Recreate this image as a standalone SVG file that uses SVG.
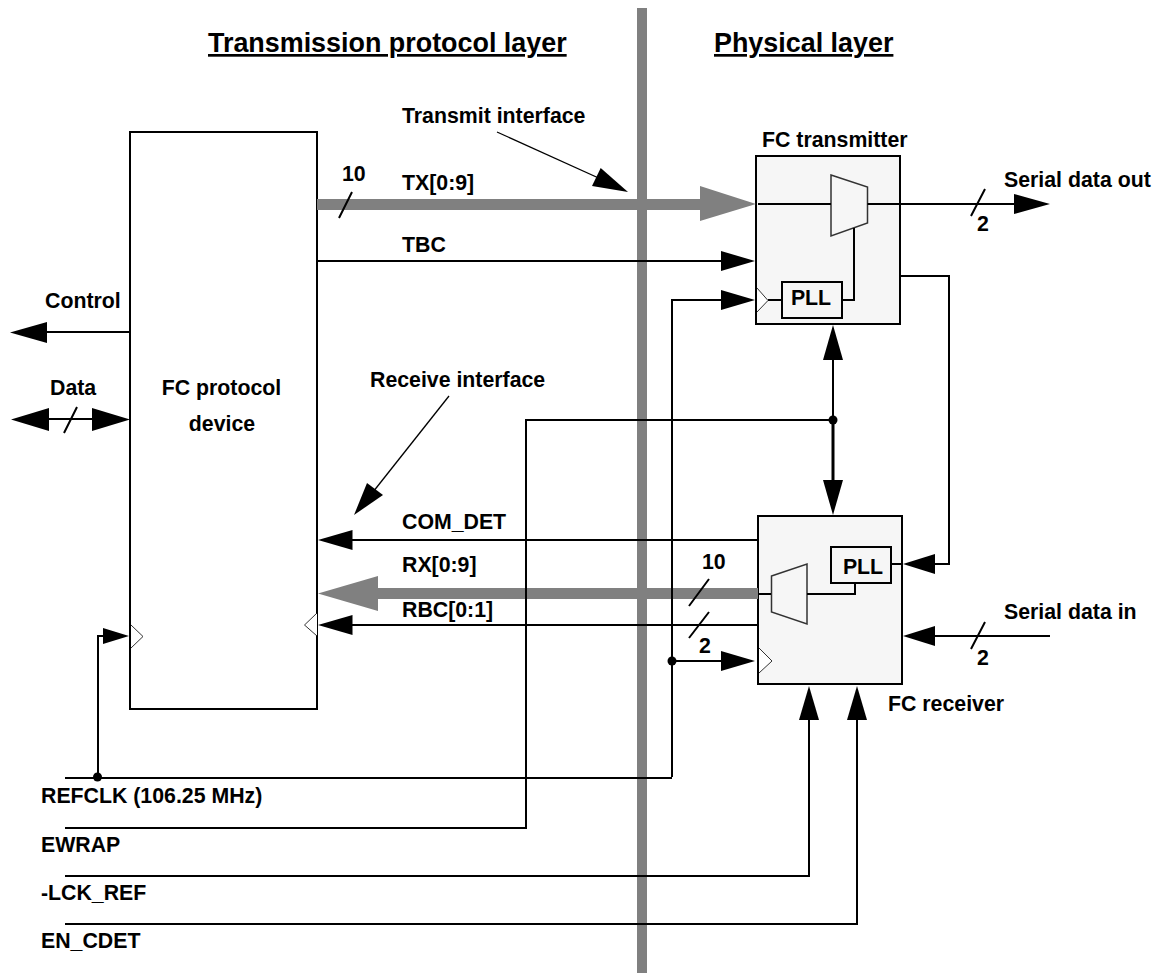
<svg xmlns="http://www.w3.org/2000/svg" width="1158" height="974" viewBox="0 0 1158 974">
<style>
text{font-family:"Liberation Sans",Arial,sans-serif;font-weight:bold;font-size:21.3px;fill:#000}
.h{font-size:26.900px;text-decoration:underline}
.box{fill:#f6f6f6;stroke:#000;stroke-width:2}
.plain{fill:#fff;stroke:#000;stroke-width:2}
.mux{fill:#f6f6f6;stroke:#333;stroke-width:1.5}
.ln{fill:none;stroke:#000;stroke-width:2}
.thin{fill:none;stroke:#000;stroke-width:1.3}
.bus{fill:none;stroke:#808080;stroke-width:11}
.clk{fill:#fff;stroke:#000;stroke-width:.8}
.a{fill:#000;stroke:none}
.g{fill:#808080;stroke:none}
</style>
<rect id="divider" x="637" y="8" width="10" height="965" fill="#808080"/>
<text class="h" x="208" y="52">Transmission protocol layer</text>
<text class="h" x="714" y="52">Physical layer</text>
<g id="fc-protocol-device">
<rect class="plain" x="130" y="132" width="187" height="577"/>
<path class="clk" d="M131 625L143 636.500L131 648"/>
<path class="clk" d="M317 613L304.500 625L317 636"/>
<text x="221.500" y="395" text-anchor="middle">FC protocol</text>
<text x="222" y="431" text-anchor="middle">device</text>
</g>
<g id="fc-transmitter">
<rect class="box" x="756" y="156" width="144" height="168"/>
<path class="clk" d="M757 288L768 300.500L757 312"/>
<path class="mux" d="M831 175L867.500 187V223L831 236Z"/>
<rect class="ln" x="782" y="282" width="60" height="36"/>
<text x="811" y="305" text-anchor="middle">PLL</text>
<text x="762" y="147">FC transmitter</text>
</g>
<g id="fc-receiver">
<rect class="box" x="758" y="516" width="144" height="168"/>
<path class="clk" d="M759 648L772 661L759 673"/>
<path class="mux" d="M771.500 576L807 564V624L771.500 612Z"/>
<rect class="ln" x="831" y="547" width="60" height="36"/>
<text x="863" y="574" text-anchor="middle">PLL</text>
<text x="888" y="711">FC receiver</text>
</g>
<g id="connectors">
<path class="bus" d="M317 204.500H702"/>
<path class="g" d="M700 186L756 204L700 221Z"/>
<path class="bus" d="M376 593.500H758"/>
<path class="g" d="M378 576L318 593.500L378 611Z"/>
<path class="ln" d="M758 204H831M867.500 204H1014"/>
<path class="a" d="M1014 194L1050 204L1014 214Z"/>
<path class="ln" d="M317 261H723"/>
<path class="a" d="M721 251L755 261L721 271Z"/>
<path class="ln" d="M672 777V300H723"/>
<path class="a" d="M721 290L755 300L721 310Z"/>
<path class="ln" d="M768 300H782M842 300H854V228"/>
<path class="ln" d="M900 276H949V564H933M903 564H891"/>
<path class="a" d="M935 554L903 564L935 574Z"/>
<path class="ln" d="M758 594H771M807 594H855V583"/>
<path class="ln" d="M758 540H350M758 625H350"/>
<path class="a" d="M352.500 530L318 540L352.500 550Z"/>
<path class="a" d="M352.500 615L318 625L352.500 635Z"/>
<path class="ln" d="M672 661H723"/>
<path class="a" d="M721 651L755 661L721 671Z"/>
<circle class="a" cx="672" cy="661" r="4.500"/>
<path class="ln" d="M1050 636H933"/>
<path class="a" d="M935 626L903 636L935 646Z"/>
<path class="ln" d="M65 778H672"/>
<path class="ln" d="M98 778V636H105"/>
<circle class="a" cx="97.500" cy="777" r="4.500"/>
<path class="a" d="M103 628L129 636L103 644Z"/>
<path class="ln" d="M65 828H526V420H833"/>
<circle class="a" cx="833" cy="420" r="4.500"/>
<path class="ln" d="M833 358V420"/>
<path d="M833 420V482" fill="none" stroke="#000" stroke-width="3"/>
<path class="a" d="M823 360L833 325L843 360Z"/>
<path class="a" d="M823 480L833 515L843 480Z"/>
<path class="ln" d="M65 876H809V718"/>
<path class="a" d="M799 720L809 686L819 720Z"/>
<path class="ln" d="M65 924H857V718"/>
<path class="a" d="M847 720L857 686L867 720Z"/>
<path class="ln" d="M130 332H45"/>
<path class="a" d="M47 322L10 332.500L47 343Z"/>
<path class="ln" d="M47 419H94"/>
<path class="a" d="M49 408L11 419.500L49 431Z"/>
<path class="a" d="M92 408L130 419.500L92 431Z"/>
<path class="thin" d="M497 132L603 180"/>
<path class="a" d="M628 192L592 186L600.700 168Z"/>
<path class="thin" d="M449 396L373 492"/>
<path class="a" d="M354 515L367 483L383 495Z"/>
<path class="ln" d="M77 407L64 433M352 192L339 218M985 189L971 216M985 622L971 649M709 579L689 606M709 612L689 638"/>
</g>
<g id="labels">
<text x="402" y="123">Transmit interface</text>
<text x="342" y="181">10</text>
<text x="402" y="190">TX[0:9]</text>
<text x="402" y="252">TBC</text>
<text x="1004" y="187">Serial data out</text>
<text x="977" y="231">2</text>
<text x="45" y="308">Control</text>
<text x="50" y="395">Data</text>
<text x="370" y="387">Receive interface</text>
<text x="402" y="529">COM_DET</text>
<text x="402" y="572">RX[0:9]</text>
<text x="402" y="617">RBC[0:1]</text>
<text x="702" y="569">10</text>
<text x="699" y="653">2</text>
<text x="1004" y="619">Serial data in</text>
<text x="977" y="665">2</text>
<text x="41" y="803">REFCLK (106.25 MHz)</text>
<text x="41" y="852">EWRAP</text>
<text x="41" y="900">-LCK_REF</text>
<text x="41" y="948">EN_CDET</text>
</g>
</svg>
